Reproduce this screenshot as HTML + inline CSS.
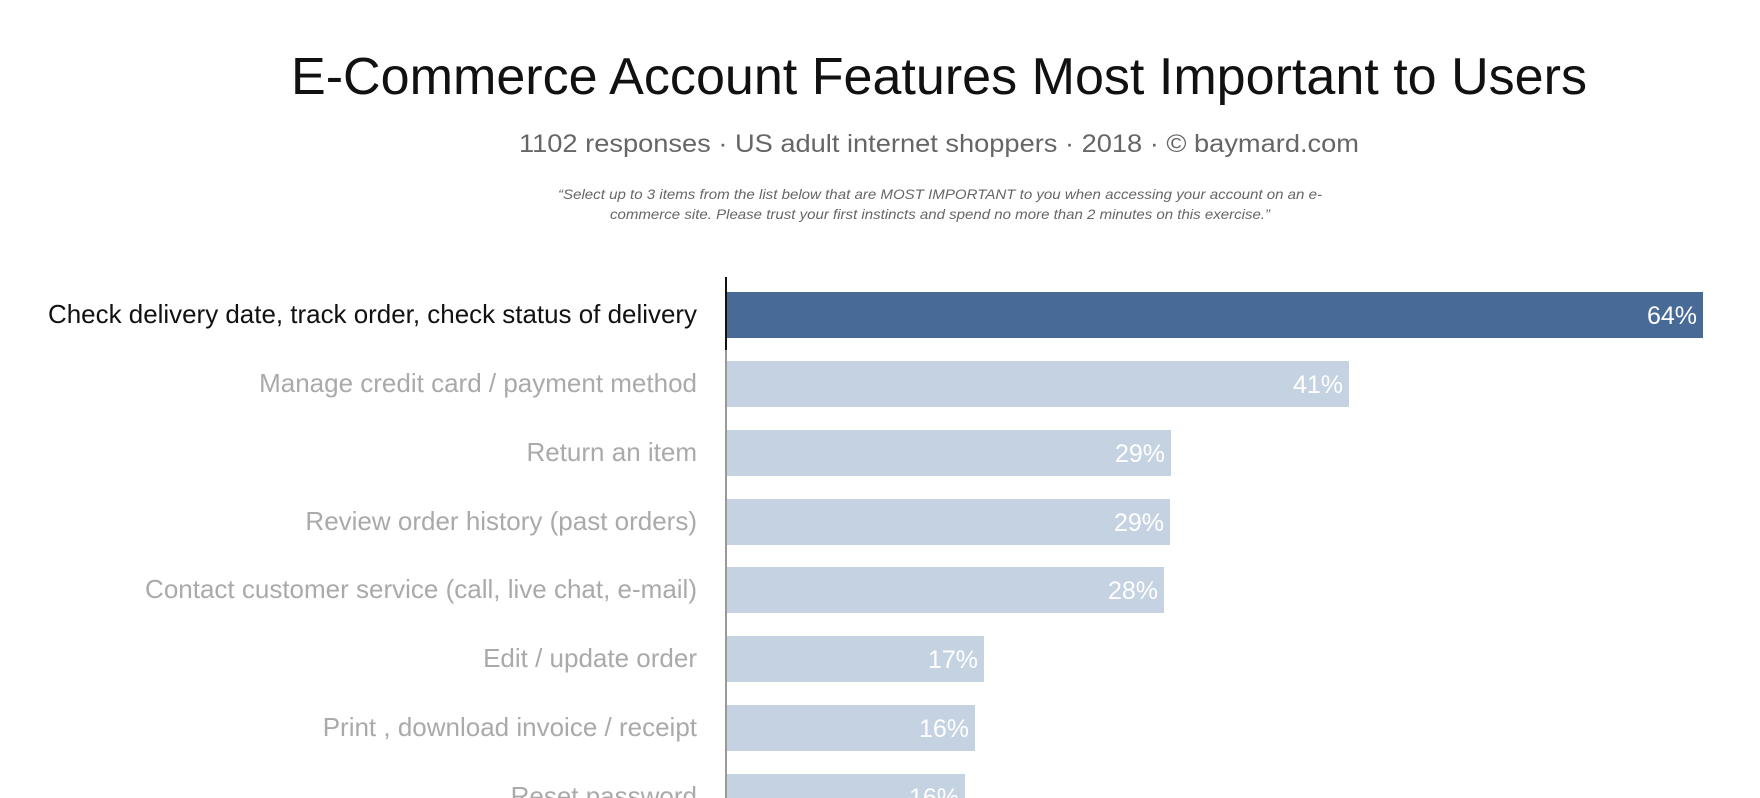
<!DOCTYPE html>
<html><head><meta charset="utf-8"><style>
html,body{margin:0;padding:0;background:#fff;}
svg{display:block;font-family:"Liberation Sans",Arial,sans-serif;}
</style></head><body>
<svg width="1760" height="798" viewBox="0 0 1760 798">
<text x="939" y="94" font-size="52" text-anchor="middle" fill="#111" textLength="1296" lengthAdjust="spacingAndGlyphs">E-Commerce Account Features Most Important to Users</text>
<text x="939" y="152" font-size="25" text-anchor="middle" fill="#666" textLength="840" lengthAdjust="spacingAndGlyphs">1102 responses  ·  US adult internet shoppers ·  2018  ·  ©  baymard.com</text>
<text x="940" y="199" font-size="14" font-style="italic" text-anchor="middle" fill="#666" textLength="764" lengthAdjust="spacingAndGlyphs">“Select up to 3 items from the list below that are MOST IMPORTANT to you when accessing your account on an e-</text>
<text x="940" y="219" font-size="14" font-style="italic" text-anchor="middle" fill="#666" textLength="660" lengthAdjust="spacingAndGlyphs">commerce site. Please trust your first instincts and spend no more than 2 minutes on this exercise.”</text>

<rect x="726" y="292" width="977" height="46" fill="#476a97"/>
<rect x="726" y="361" width="623" height="46" fill="#c5d2e1"/>
<rect x="726" y="430" width="445" height="46" fill="#c5d2e1"/>
<rect x="726" y="499" width="444" height="46" fill="#c5d2e1"/>
<rect x="726" y="567" width="438" height="46" fill="#c5d2e1"/>
<rect x="726" y="636" width="258" height="46" fill="#c5d2e1"/>
<rect x="726" y="705" width="249" height="46" fill="#c5d2e1"/>
<rect x="726" y="774" width="239" height="46" fill="#c5d2e1"/>

<line x1="726" y1="277" x2="726" y2="798" stroke="#999" stroke-width="2"/>
<line x1="726" y1="277" x2="726" y2="350" stroke="#111" stroke-width="2"/>

<g font-size="25" fill="#fff" text-anchor="end">
<text x="1697" y="324">64%</text>
<text x="1343" y="393">41%</text>
<text x="1165" y="462">29%</text>
<text x="1164" y="531">29%</text>
<text x="1158" y="599">28%</text>
<text x="978" y="668">17%</text>
<text x="969" y="737">16%</text>
<text x="959" y="806">16%</text>
</g>

<g font-size="26" text-anchor="end" fill="#aaa">
<text x="697" y="323" fill="#111" textLength="649" lengthAdjust="spacingAndGlyphs">Check delivery date, track order, check status of delivery</text>
<text x="697" y="392">Manage credit card / payment method</text>
<text x="697" y="461">Return an item</text>
<text x="697" y="530">Review order history (past orders)</text>
<text x="697" y="598">Contact customer service (call, live chat, e-mail)</text>
<text x="697" y="667">Edit / update order</text>
<text x="697" y="736">Print , download invoice / receipt</text>
<text x="697" y="805">Reset password</text>
</g>
</svg>
</body></html>
